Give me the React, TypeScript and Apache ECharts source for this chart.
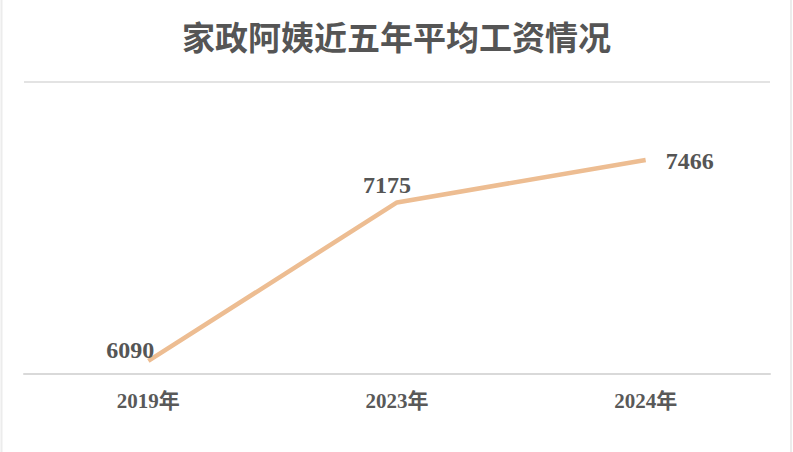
import React, { useEffect, useRef } from "react";
import * as echarts from "echarts";

const categories = ["2019年", "2023年", "2024年"];
const values = [6090, 7175, 7466];
const titleText = "家政阿姨近五年平均工资情况";

const FONT = "'Liberation Serif', 'DejaVu Serif', 'Noto Sans CJK SC', serif";

export default function App() {
  const ref = useRef<HTMLDivElement>(null);
  useEffect(() => {
    if (!ref.current) return;
    const chart = echarts.init(ref.current, undefined, { renderer: "svg" });
    const labelCfg = [
      { position: "top", offset: [-18, 6] },
      { position: "top", offset: [-10, 0] },
      { position: "right", offset: [15, 1] },
    ];
    chart.setOption({
      animation: false,
      backgroundColor: "#ffffff",
      title: {
        text: titleText,
        left: "center",
        top: 17,
        textStyle: {
          fontFamily: FONT,
          fontSize: 33,
          fontWeight: "bold",
          color: "#555555",
        },
      },
      grid: { left: 24, right: 23, top: 82, bottom: 78 },
      xAxis: {
        type: "category",
        data: categories,
        boundaryGap: true,
        axisLine: { lineStyle: { color: "#d9d9d9", width: 2 } },
        axisTick: { show: false },
        axisLabel: {
          margin: 16,
          fontFamily: FONT,
          fontSize: 21,
          fontWeight: "bold",
          color: "#595959",
        },
      },
      yAxis: {
        type: "value",
        min: 6000,
        max: 8000,
        interval: 2000,
        axisLabel: { show: false },
        axisLine: { show: false },
        axisTick: { show: false },
        splitLine: { lineStyle: { color: "#e3e3e3", width: 2 } },
      },
      series: [
        {
          type: "line",
          data: values.map((v, i) => ({
            value: v,
            label: labelCfg[i],
          })),
          symbol: "circle",
          symbolSize: 0,
          showSymbol: true,
          lineStyle: { color: "#EDBD92", width: 4.5 },
          itemStyle: { color: "#EDBD92" },
          label: {
            show: true,
            fontFamily: FONT,
            fontSize: 24,
            fontWeight: "bold",
            color: "#555555",
          },
        },
      ],
      graphic: [
        { type: "line", shape: { x1: 1.5, y1: 0, x2: 1.5, y2: 452 }, style: { stroke: "#ececec", lineWidth: 2 } },
        { type: "line", shape: { x1: 791, y1: 0, x2: 791, y2: 452 }, style: { stroke: "#ececec", lineWidth: 2 } },
      ],
    });
    return () => chart.dispose();
  }, []);
  return (
    <div
      ref={ref}
      style={{ position: "fixed", left: 0, top: 0, width: 793, height: 452 }}
    />
  );
}
